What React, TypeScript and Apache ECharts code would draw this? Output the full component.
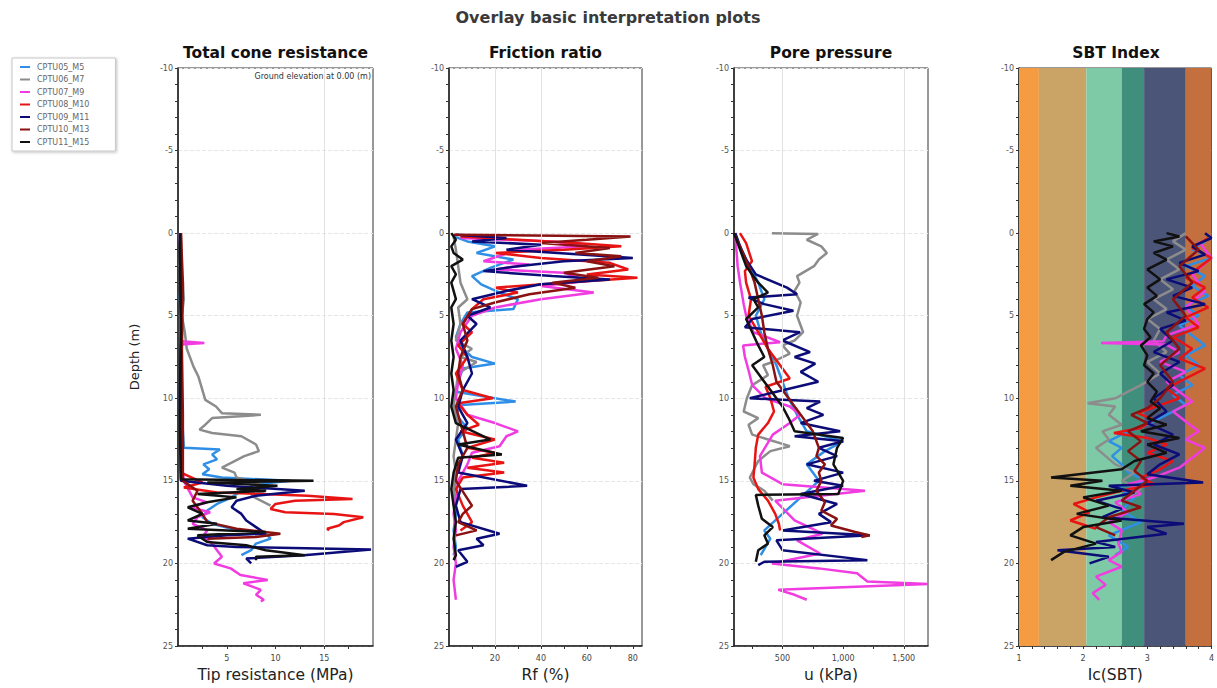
import React, { useEffect, useRef } from "react";
import * as echarts from "echarts";

// ---------- legend / series ----------
const names = ["CPTU05_M5", "CPTU06_M7", "CPTU07_M9", "CPTU08_M10", "CPTU09_M11", "CPTU10_M13", "CPTU11_M15"];
const colors = ["#2f8fe6", "#8c8c8c", "#f03ce0", "#e81414", "#0c0c78", "#8a1212", "#111111"];

// ---------- Total cone resistance qc (MPa), [value, depth] ----------
const qc_M5 = [[0.2,0],[0.3,2],[0.2,4],[0.4,6],[0.3,8],[0.4,10],[0.5,12],[0.6,13],[4.3,13.1],[3.5,13.4],[4.0,13.7],[2.6,14.0],[3.2,14.3],[2.5,14.6],[4.5,14.8],[11.5,15.0],[8,15.2],[6.5,15.6],[5.5,16.0],[4.0,16.4],[3.0,16.8],[2.5,17.2],[3.5,17.6],[5.5,17.9],[9.0,18.2],[9.5,18.5],[8.0,18.8],[7.5,19.2],[6.5,19.5]];
const qc_M7 = [[0.1,0],[0.3,1],[0.2,2],[0.5,3],[0.6,4],[0.4,5],[0.7,6],[0.9,7],[1.6,8.1],[2.1,8.7],[2.3,9.1],[2.8,10.1],[3.9,10.5],[4.5,10.9],[8.5,11.0],[3.5,11.2],[2.8,11.6],[2.2,11.9],[3.5,12.1],[6.5,12.3],[8.0,12.8],[8.3,13.2],[6.8,13.5],[5.5,13.9],[4.5,14.2],[5.8,14.5],[6.0,14.8],[8.5,15.2],[9.0,15.6],[7.5,15.9],[8.5,16.2],[9.5,16.5]];
const qc_M9 = [[0.2,0],[0.3,3],[0.3,6.55],[2.7,6.65],[0.3,6.75],[0.3,10],[0.4,14],[0.6,15],[1.5,16.0],[3.0,16.3],[1.2,16.6],[3.3,16.9],[2.0,17.2],[1.5,17.6],[3.0,18.0],[2.5,18.4],[3.5,18.8],[4.0,19.2],[4.5,19.6],[3.7,20.0],[5.4,20.3],[6.4,20.7],[9.2,21.0],[6.7,21.2],[8.5,21.6],[8.0,21.9],[8.8,22.2],[8.5,22.3]];
const qc_M10 = [[0.3,0],[0.4,4],[0.3,8],[0.4,12],[0.3,14.5],[2.5,15.1],[0.6,15.4],[4,15.7],[13.3,15.9],[17.9,16.1],[12,16.2],[10,16.4],[9.5,16.7],[11,16.9],[16,17.0],[19,17.2],[17,17.5],[16.5,17.7],[15.3,17.9],[15.5,18.0]];
const qc_M11 = [[0.2,0],[0.3,5],[0.2,10],[0.3,15],[5,15.3],[13,15.6],[8,15.9],[6,16.2],[5.5,16.6],[6.5,17.0],[7,17.4],[8,17.8],[9,18.2],[5,18.3],[1,18.5],[3,18.9],[6,19.0],[19.8,19.15],[12.9,19.5],[7,19.7],[7.5,20.0]];
const qc_M13 = [[0.3,0],[0.5,3],[0.4,7],[0.5,11],[0.5,15],[2,15.6],[1.5,16.2],[2.5,17.0],[3,17.5],[6,17.9],[10.5,18.2],[8,18.4],[3,18.5]];
const qc_M15 = [[0.2,0],[0.3,6],[0.2,12],[0.3,14.9],[13.9,15.0],[3,15.1],[10.2,15.3],[6,15.5],[9,15.6],[2,15.8],[6,16.0],[3,16.3],[1,16.6],[2.5,17.0],[1,17.4],[4,17.6],[1,17.9],[9,18.1],[2,18.3],[3,18.7],[7,18.9],[9,19.2],[13,19.5],[8,19.6],[8,19.8]];

// ---------- Friction ratio Rf (%) ----------
const rf_M5 = [[2,0.2],[8,0.5],[20,0.8],[12,1.2],[28,1.6],[18,2.1],[10,2.6],[14,3.1],[22,3.6],[30,4.0],[28,4.6],[8,4.8],[5,5.5],[3,6.3],[6,7.0],[10,7.5],[20,7.9],[6,8.2],[4,9.0],[3,9.6],[29,10.2],[5,10.4],[3,11.0],[8,11.8],[4,12.5],[6,13.5],[3,14.5],[2,16],[3,17],[2,18],[3,19],[2,19.5]];
const rf_M7 = [[2,0.2],[3,1],[4,2],[5,3],[8,4],[4,4.5],[5,5.5],[3,6.5],[10,7.0],[5,7.5],[12,7.8],[4,8.5],[3,9.5],[2,10.5],[4,11.5],[3,12.5],[2,13.5],[3,14.5],[2,15.5],[2,16.5]];
const rf_M9 = [[5,0.3],[45,0.5],[60,0.8],[30,1.0],[15,1.7],[35,1.9],[20,2.2],[50,2.4],[60,2.9],[40,3.2],[63,3.6],[40,4.0],[20,4.5],[10,5.0],[5,6.0],[3,7.0],[6,8.0],[4,9.0],[3,10.0],[8,11],[20,11.5],[30,12.0],[25,12.3],[22,12.9],[10,13.3],[8,14.0],[4,15.0],[3,16],[2,17],[3,18],[2,19],[3,20],[2,21],[3,22.2]];
const rf_M10 = [[5,0.2],[30,0.4],[55,0.6],[75,0.8],[50,1.0],[20,1.2],[40,1.5],[70,1.8],[78,2.2],[60,2.5],[82,2.7],[50,3.0],[20,3.3],[30,3.6],[15,4.0],[10,4.6],[6,5.5],[10,6.0],[4,6.8],[8,7.5],[3,8.5],[6,9.5],[19,10.0],[4,10.3],[8,11],[13,11.6],[5,12.0],[20,12.5],[8,13.0],[20,13.3],[10,13.6],[24,13.9],[8,14.2],[24,14.5],[6,14.8],[3,15.5],[6,16.5],[10,17.5],[5,18]];
const rf_M11 = [[3,0.1],[25,0.3],[10,0.5],[40,0.7],[25,1.0],[80,1.5],[50,1.7],[30,2.0],[15,2.3],[45,2.6],[70,2.8],[40,3.1],[25,3.5],[10,4.0],[18,4.5],[8,5.0],[12,5.5],[5,6.5],[8,7.5],[10,8.5],[6,9.5],[4,10.5],[8,11.5],[3,12.5],[6,13.5],[4,14.5],[34,15.3],[5,15.5],[3,16.5],[5,17.5],[22,18.2],[12,18.5],[15,18.9],[4,19.2],[8,19.9],[3,20.2]];
const rf_M13 = [[2,0.1],[79,0.2],[60,0.4],[40,0.6],[70,0.9],[55,1.2],[75,1.4],[60,1.7],[72,2.0],[50,2.4],[65,2.7],[45,3.0],[55,3.3],[35,3.7],[20,4.2],[10,4.6],[6,5.5],[8,6.5],[5,7.5],[4,8.5],[6,9.5],[3,10.5],[5,11.5],[8,13],[4,14],[3,15],[10,16.5],[6,17.0],[4,17.5],[12,18.0],[3,18.3]];
const rf_M15 = [[1,0],[3,0.4],[1,0.8],[2,1.2],[6,1.6],[1,2.0],[3,2.5],[1,3.0],[2,3.5],[3,4.0],[1,4.5],[2,5.5],[1,6.5],[2,7.5],[1,8.5],[2,9.5],[1,10.5],[3,11.5],[18,12.5],[4,12.8],[23,13.4],[4,13.6],[2,14.5],[1,15.5],[2,16.5],[3,17.5],[2,18.5],[3,19.5],[2,19.8]];

// ---------- Pore pressure u (kPa) ----------
const u_M5 = [[110,0],[160,1],[230,2],[300,3],[350,4],[280,5],[320,6],[380,7],[450,8],[500,9],[550,10],[620,11],[700,12],[1000,12.6],[850,13.2],[700,14],[800,15],[650,16],[500,17],[350,18],[400,18.5],[320,19.5]];
const u_M7 = [[413,0],[793,0.05],[700,0.4],[820,0.8],[866,1.2],[800,1.6],[760,2.0],[620,2.6],[640,3.0],[600,3.5],[650,4.2],[620,5.0],[670,6.0],[600,6.5],[500,6.8],[560,7.3],[420,7.8],[340,8.0],[380,8.6],[250,9.2],[206,10.0],[180,10.8],[300,11.2],[220,11.6],[250,12.2],[560,12.9],[400,13.2],[300,13.8],[231,14.8],[260,15.2],[350,15.6],[420,16.2]];
const u_M9 = [[110,0],[120,1],[130,2],[150,3],[180,4.3],[200,5.0],[260,6.0],[480,6.6],[175,6.8],[190,7.5],[220,8.3],[250,9.2],[360,10.0],[560,10.5],[645,11.0],[560,11.5],[420,12.2],[314,13.5],[330,14.5],[500,15.2],[1180,15.6],[440,16.2],[520,16.8],[600,17.4],[830,18.2],[620,18.6],[810,19.4],[413,20.0],[800,20.3],[1115,20.6],[1200,21.1],[1700,21.25],[465,21.6],[600,21.9],[700,22.2]];
const u_M10 = [[149,0],[200,0.6],[248,1.7],[190,2.3],[200,3.0],[240,4.0],[220,5.0],[300,6.0],[380,7.0],[480,8.0],[560,8.8],[360,9.3],[400,10.0],[430,10.8],[380,11.5],[300,12.2],[280,13.0],[270,14.0],[260,14.8],[300,15.5],[380,16.2],[440,17.0],[470,17.6],[480,18.0]];
const u_M11 = [[110,0],[150,0.8],[200,1.6],[280,2.5],[537,3.3],[620,3.7],[220,3.9],[350,4.3],[590,4.7],[250,5.2],[190,5.7],[645,6.0],[500,6.5],[727,7.2],[600,7.5],[770,7.9],[650,8.4],[795,9.0],[450,9.6],[230,10.0],[810,10.2],[700,10.6],[837,11.0],[650,11.5],[975,12.0],[600,12.3],[1000,12.6],[800,13.0],[950,13.5],[700,14.0],[1000,14.5],[760,15.0],[1000,15.3],[650,15.8],[950,16.4],[800,17.0],[900,17.5],[500,18.0],[1220,18.3],[450,18.6],[500,19.2],[1200,19.8],[350,19.9],[300,20.1]];
const u_M13 = [[100,0],[160,1],[220,2],[270,3],[300,4],[330,5],[350,6],[380,7],[420,8],[450,9],[550,10],[650,11],[750,12],[800,13],[780,13.5],[850,14.0],[800,14.5],[820,15.0],[780,15.6],[850,16.3],[820,16.8],[950,17.3],[900,17.7],[1100,18.1],[1220,18.3],[1150,18.4]];
const u_M15 = [[100,0],[150,1],[200,2],[300,3],[380,3.6],[260,4.0],[300,4.5],[200,5.2],[250,6.0],[300,6.8],[350,7.5],[250,8.0],[300,8.5],[400,9.5],[500,10.5],[550,11.2],[600,12.0],[1000,12.4],[950,13.0],[920,14.0],[1000,15.0],[960,15.8],[280,15.85],[300,16.5],[330,17.3],[420,17.8],[350,18.3],[380,18.8],[300,19.2],[280,19.9]];

// ---------- SBT index Ic ----------
const ic_M5 = [[3.9,0.5],[3.7,1.0],[4.0,1.5],[3.6,2.0],[3.9,2.6],[3.7,3.2],[3.95,3.8],[3.6,4.4],[3.8,5.0],[3.5,5.6],[3.7,6.2],[3.9,6.8],[3.6,7.4],[3.8,8.0],[3.5,8.6],[3.7,9.2],[3.4,9.8],[3.6,10.4],[3.3,11.0],[3.0,11.6],[2.6,12.2],[2.4,12.6],[2.6,13.0],[2.45,13.5],[2.6,14.0],[2.7,14.5],[3.0,15.0],[2.5,15.4],[2.8,16.0],[2.6,16.8],[2.9,17.5],[2.4,18.3],[2.7,19.0],[2.5,19.5]];
const ic_M7 = [[3.6,0],[3.4,0.5],[3.6,1.0],[3.3,1.6],[3.5,2.2],[3.2,2.8],[3.4,3.4],[3.1,4.0],[3.3,4.6],[3.0,5.2],[3.2,5.8],[3.1,6.5],[3.3,7.2],[3.0,7.8],[3.2,8.5],[2.9,9.2],[2.7,9.6],[2.5,10.0],[2.07,10.3],[2.5,10.5],[2.4,11.0],[2.6,11.6],[2.3,12.0],[2.4,12.5],[2.2,13.0],[2.35,13.5],[2.5,14.0],[2.8,14.5],[2.6,15.0],[2.9,15.5],[2.7,16.0]];
const ic_M9 = [[3.8,0.5],[4.0,1.5],[3.7,2.5],[3.9,3.5],[3.6,4.5],[3.8,5.5],[3.3,6.2],[3.25,6.55],[2.28,6.65],[3.3,6.75],[3.5,7.2],[3.2,7.8],[3.6,8.4],[3.3,9.0],[3.5,9.6],[3.7,10.2],[3.4,10.8],[3.6,11.4],[3.8,12.0],[3.6,12.5],[3.9,13.0],[3.7,13.6],[3.5,14.2],[3.1,14.8],[2.7,15.2],[2.9,15.8],[2.5,16.3],[2.7,16.9],[2.4,17.5],[2.6,18.0],[2.55,18.8],[2.6,19.3],[2.4,19.8],[2.6,20.2],[2.2,20.8],[2.35,21.3],[2.15,21.8],[2.25,22.2]];
const ic_M10 = [[3.95,0.3],[3.7,0.9],[4.0,1.5],[3.8,2.1],[3.6,2.7],[3.9,3.3],[3.7,3.9],[3.95,4.5],[3.6,5.1],[3.8,5.7],[3.4,6.3],[3.7,7.0],[3.5,7.6],[3.9,8.2],[3.6,8.8],[3.3,9.4],[3.5,10.0],[2.85,10.9],[3.1,11.3],[2.9,11.8],[2.48,12.1],[3.0,12.4],[3.3,12.8],[3.0,13.3],[3.4,13.8],[3.2,14.3],[2.9,14.8],[3.1,15.2],[2.6,15.6],[2.2,16.0],[1.85,16.4],[2.1,16.9],[1.8,17.4],[2.2,17.9]];
const ic_M11 = [[3.9,0],[4.0,0.3],[3.7,0.8],[3.9,1.3],[3.5,1.8],[3.8,2.3],[3.3,2.8],[3.7,3.3],[3.4,3.8],[3.9,4.3],[3.3,4.8],[3.6,5.3],[3.2,5.8],[3.4,6.5],[3.1,7.2],[3.5,7.8],[3.2,8.5],[3.4,9.2],[3.1,10],[3.3,10.8],[3.0,11.5],[3.4,12.2],[3.1,12.8],[3.5,13.4],[3.2,14.0],[3.0,14.6],[3.87,15.1],[2.4,15.3],[2.8,15.7],[2.2,16.2],[2.6,16.7],[2.3,17.2],[3.57,17.6],[3.0,17.8],[3.3,18.2],[2.2,18.7],[2.5,19.0],[1.6,19.2],[2.4,19.6],[2.1,20.0]];
const ic_M13 = [[3.6,0.2],[3.8,1.0],[3.5,2.0],[3.7,3.0],[3.4,4.0],[3.6,5.0],[3.3,6.0],[3.5,7.0],[3.2,8.0],[3.4,9.0],[3.2,10.0],[3.0,10.6],[2.75,11.0],[3.0,11.5],[2.7,12.0],[2.9,12.6],[2.7,13.2],[2.9,13.8],[2.8,14.4],[3.0,15.0],[2.8,15.6],[2.6,16.2],[2.9,16.6],[2.4,17.2],[2.2,17.8],[2.5,18.3]];
const ic_M15 = [[3.3,0],[3.5,0.2],[3.1,0.5],[3.4,0.8],[3.1,1.2],[3.3,1.6],[3.0,2.2],[3.2,2.8],[3.0,3.3],[3.15,3.8],[2.95,4.3],[3.1,4.8],[3.0,5.2],[2.95,5.8],[3.05,6.3],[2.9,6.8],[3.0,7.4],[2.95,8.0],[3.1,8.5],[3.0,9.0],[3.15,9.6],[3.05,10.2],[3.2,10.6],[3.0,11.2],[3.3,11.6],[2.9,12.0],[3.5,12.4],[3.0,12.8],[3.3,13.3],[2.8,13.8],[2.6,14.3],[1.5,14.8],[2.3,15.0],[1.8,15.3],[2.6,15.6],[2.0,16.0],[2.4,16.5],[1.9,17.0],[2.6,17.4],[2.0,17.8],[1.8,18.3],[2.2,18.8],[1.7,19.3],[1.5,19.8]];

// ---------- SBT zones ----------
const sbtBounds = [1, 1.31, 2.05, 2.6, 2.95, 3.6, 4];
const sbtColors = ["#f59b42", "#c9a466", "#7ecaa6", "#3f8f7c", "#4b5578", "#c36f3e"];

// ---------- axes / ticks ----------
const panelTitles = ["Total cone resistance", "Friction ratio", "Pore pressure", "SBT Index"];
const axisNames = ["Tip resistance (MPa)", "Rf (%)", "u (kPa)", "Ic(SBT)"];
const xMin = [0, 0, 100, 1];
const xMax = [20, 84, 1700, 4];
const xLabelValues = [[5, 10, 15], [20, 40, 60, 80], [500, 1000, 1500], [1, 2, 3, 4]];
const xTickValues = [
  [2.5, 5, 7.5, 10, 12.5, 15, 17.5],
  [10, 20, 30, 40, 50, 60, 70, 80],
  [250, 500, 750, 1000, 1250, 1500],
  [1, 1.2, 1.4, 1.6, 1.8, 2, 2.2, 2.4, 2.6, 2.8, 3, 3.2, 3.4, 3.6, 3.8, 4],
];
const xGridValues = [[15], [20, 40], [500, 1500], []];
const depthMin = -10;
const depthMax = 25;

const panelData = [
  [qc_M5, qc_M7, qc_M9, qc_M10, qc_M11, qc_M13, qc_M15],
  [rf_M5, rf_M7, rf_M9, rf_M10, rf_M11, rf_M13, rf_M15],
  [u_M5, u_M7, u_M9, u_M10, u_M11, u_M13, u_M15],
  [ic_M5, ic_M7, ic_M9, ic_M10, ic_M11, ic_M13, ic_M15],
];

const gridLeft = [178, 449, 734, 1019];
const gridWidth = [195, 193, 194, 194];
const gridTop = 68;
const gridHeight = 579;
const FONT = '"DejaVu Sans", Verdana, sans-serif';

export default function App() {
  const ref = useRef<HTMLDivElement>(null);
  useEffect(() => {
    document.body.style.margin = "0";
    const chart = echarts.init(ref.current!, null, { renderer: "svg" });
    const grids = gridLeft.map((l, i) => ({
      left: l, top: gridTop, width: gridWidth[i], height: gridHeight,
      show: true, borderColor: "#333", borderWidth: 1, backgroundColor: "transparent",
    }));
    const xAxes = gridLeft.map((_, i) => ({
      type: "value", gridIndex: i, min: xMin[i], max: xMax[i], position: "bottom",
      name: axisNames[i], nameLocation: "middle", nameGap: 21,
      nameTextStyle: { fontFamily: FONT, fontSize: 15.5, color: "#222" },
      axisLine: { show: true, onZero: false, lineStyle: { color: "#222", width: 1.5 } },
      axisTick: { show: true, customValues: xTickValues[i], length: 3, lineStyle: { color: "#333" } },
      axisLabel: { show: true, customValues: xLabelValues[i], fontSize: 8, color: "#444", fontFamily: FONT, margin: 8 },
      splitLine: { show: false },
    }));
    const yAxes = gridLeft.map((_, i) => ({
      type: "value", gridIndex: i, min: depthMin, max: depthMax, interval: 5, inverse: true,
      name: i === 0 ? "Depth (m)" : "", nameLocation: "middle", nameGap: 37, nameRotate: 90,
      nameTextStyle: { fontFamily: FONT, fontSize: 13, color: "#222" },
      axisLine: { show: true, onZero: false, lineStyle: { color: "#222", width: 1.5 } },
      axisTick: { show: true, length: 3, lineStyle: { color: "#333" } },
      minorTick: { show: true, splitNumber: 5, length: 3, lineStyle: { color: "#333" } },
      axisLabel: { fontSize: 8, color: "#555", fontFamily: FONT, margin: 5 },
      splitLine: { show: true, lineStyle: { color: i === 3 ? "rgba(255,255,255,0.55)" : "#e6e6e6", type: "dashed", width: 1 } },
    }));
    const series: any[] = [];
    // SBT bands
    series.push({
      type: "line", name: "sbt-zones", xAxisIndex: 3, yAxisIndex: 3, data: [], silent: true, z: 0,
      markArea: {
        silent: true,
        data: sbtColors.map((c, k) => [
          { xAxis: sbtBounds[k], itemStyle: { color: c, opacity: 1 } },
          { xAxis: sbtBounds[k + 1] },
        ]),
      },
    });
    // vertical grid lines
    xGridValues.forEach((vals, i) => {
      if (!vals.length) return;
      series.push({
        type: "line", name: "grid-" + i, xAxisIndex: i, yAxisIndex: i, data: [], silent: true, z: 1,
        markLine: {
          silent: true, symbol: "none", label: { show: false },
          lineStyle: { color: "#e2e2e2", type: "solid", width: 1 },
          data: vals.map((v) => ({ xAxis: v })),
        },
      });
    });
    panelData.forEach((arr, p) => {
      arr.forEach((d, k) => {
        series.push({
          type: "line", name: names[k], xAxisIndex: p, yAxisIndex: p, data: d,
          showSymbol: false, symbol: "none", z: 3,
          lineStyle: { color: colors[k], width: 2.5 }, itemStyle: { color: colors[k] },
        });
      });
    });
    const graphics: any[] = [
      { type: "text", x: 608, y: 9, style: { text: "Overlay basic interpretation plots", font: `bold 16px ${FONT}`, fill: "#3a3a3a", textAlign: "center" } },
      { type: "text", x: 371, y: 72, style: { text: "Ground elevation at 0.00 (m)", font: `8px ${FONT}`, fill: "#333", textAlign: "right" } },
    ];
    panelTitles.forEach((t, i) => {
      graphics.push({
        type: "text", x: gridLeft[i] + gridWidth[i] / 2, y: 45,
        style: { text: t, font: `bold 15.5px ${FONT}`, fill: "#111", textAlign: "center" },
      });
    });
    chart.setOption({
      animation: false,
      backgroundColor: "#fff",
      grid: grids,
      xAxis: xAxes,
      yAxis: yAxes,
      legend: {
        data: names, orient: "vertical", left: 12, top: 58, itemWidth: 10, itemHeight: 2, itemGap: 4.5,
        icon: "rect", padding: [5, 26, 5, 8], backgroundColor: "#fff", borderColor: "#c8c8c8", borderWidth: 1,
        shadowColor: "rgba(0,0,0,0.25)", shadowBlur: 3, shadowOffsetX: 1, shadowOffsetY: 1,
        textStyle: { fontSize: 8, color: "#666", fontFamily: FONT, padding: [0, 0, 0, 2] },
      },
      graphic: graphics,
      series,
    });
    return () => chart.dispose();
  }, []);
  return <div ref={ref} style={{ position: "absolute", left: 0, top: 0, width: 1217, height: 688 }} />;
}
